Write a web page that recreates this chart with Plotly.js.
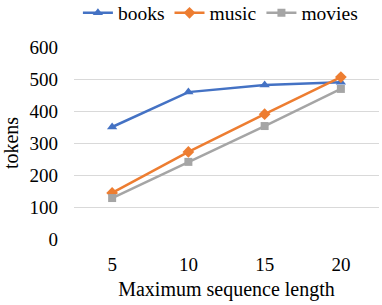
<!DOCTYPE html>
<html><head><meta charset="utf-8">
<script src="https://cdn.plot.ly/plotly-3.0.1.min.js"></script>
<style>html,body{margin:0;padding:0;background:#fff}#c{width:382px;height:305px}</style>
</head><body><div id="c"></div>
<script>
const categories = ['5', '10', '15', '20'];
const books = [350, 459, 481, 490];
const music = [144, 272, 390, 506];
const movies = [128, 241, 353, 469];
const yTicks = [0, 100, 200, 300, 400, 500, 600];

const FAM = 'Liberation Serif, Times New Roman, serif';
function f(size) { return {family: FAM, size: size, color: '#000'}; }
function tr(name, y, color, symbol, size) {
  return {x: categories, y: y, name: name, type: 'scatter', mode: 'lines+markers',
    line: {color: color, width: 2.5}, marker: {symbol: symbol, size: size, color: color}};
}
const data = [
  tr('books', books, '#4472C4', 'triangle-up', 9),
  tr('music', music, '#ED7D31', 'diamond', 9),
  tr('movies', movies, '#A5A5A5', 'square', 8)
];
const layout = {
  width: 382, height: 305,
  margin: {l: 74, r: 3, t: 47, b: 66},
  paper_bgcolor: '#fff', plot_bgcolor: '#fff',
  font: f(19),
  showlegend: true,
  legend: {orientation: 'h', xref: 'container', yref: 'container', x: 0.577, xanchor: 'center',
    y: 0.957, yanchor: 'middle',
    font: f(19.5), itemwidth: 30, tracegroupgap: 0, traceorder: 'normal'},
  xaxis: {type: 'category', range: [-0.5, 3.5], showgrid: false, zeroline: false, showline: false,
    automargin: false, ticks: '', tickfont: f(19), ticklabelstandoff: 12,
    title: {text: 'Maximum sequence length', font: f(20), standoff: 7}},
  yaxis: {range: [0, 600], tickvals: yTicks, showgrid: true, gridcolor: '#D9D9D9', gridwidth: 1,
    automargin: false, zeroline: false, showline: false, ticks: '', ticklen: 0,
    tickfont: f(19), ticklabelstandoff: 15,
    title: {text: 'tokens', font: f(20), standoff: 10}}
};
Plotly.newPlot('c', data, layout, {displayModeBar: false, staticPlot: true});
</script></body></html>
